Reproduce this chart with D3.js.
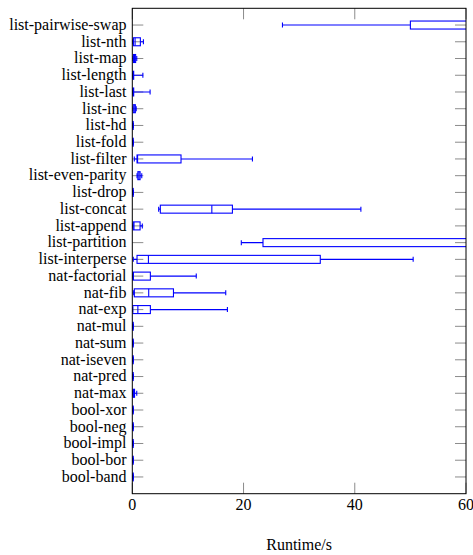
<!DOCTYPE html>
<html><head><meta charset="utf-8">
<script src="https://cdn.jsdelivr.net/npm/d3@7"></script>
<style>body{margin:0;background:#fff}svg{display:block}text{font-family:"Liberation Serif","DejaVu Serif",serif;fill:#000}</style>
</head><body><div id="chart"></div>
<script>
const categories = ["list-pairwise-swap","list-nth","list-map","list-length","list-last","list-inc","list-hd","list-fold","list-filter","list-even-parity","list-drop","list-concat","list-append","list-partition","list-interperse","nat-factorial","nat-fib","nat-exp","nat-mul","nat-sum","nat-iseven","nat-pred","nat-max","bool-xor","bool-neg","bool-impl","bool-bor","bool-band"];
const mins    = [27.0, 0.05, 0.1, 0.05, 0.05, 0.1, 0.05, 0.05, 0.36, 0.85, 0.05, 4.74, 0.05, 19.6, 0.18, 0.02, 0.25, 0.05, 0.05, 0.05, 0.05, 0.05, 0.05, 0.05, 0.05, 0.05, 0.05, 0.05];
const q1s     = [50.0, 0.2, 0.2, 0.1, 0.1, 0.15, 0.08, 0.08, 0.85, 1.0, 0.08, 5.04, 0.15, 23.5, 0.85, 0.1, 0.36, 0.1, 0.08, 0.08, 0.08, 0.08, 0.1, 0.08, 0.08, 0.08, 0.08, 0.08];
const medians = [62.0, 0.5, 0.4, 0.15, 0.15, 0.35, 0.1, 0.1, 0.95, 1.2, 0.1, 14.3, 0.3, 64.0, 2.9, 0.2, 2.95, 1.0, 0.1, 0.1, 0.1, 0.1, 0.2, 0.1, 0.1, 0.1, 0.1, 0.1];
const q3s     = [70.0, 1.45, 0.6, 0.25, 0.25, 0.55, 0.15, 0.15, 8.76, 1.4, 0.15, 18.0, 1.4, 70.0, 33.8, 3.25, 7.4, 3.25, 0.15, 0.15, 0.15, 0.15, 0.4, 0.15, 0.15, 0.15, 0.15, 0.15];
const maxs    = [80.0, 2.0, 0.8, 1.9, 3.2, 0.7, 0.2, 0.2, 21.6, 1.7, 0.2, 41.1, 1.8, 80.0, 50.5, 11.5, 16.8, 17.1, 0.2, 0.2, 0.2, 0.2, 0.8, 0.2, 0.2, 0.2, 0.2, 0.2];
const xTicks = [0, 20, 40, 60];
const xLabel = "Runtime/s";

const W = 473, H = 555;
const L = 132.3, R = 466, T = 8.3, B = 493.7;
const svg = d3.select("#chart").append("svg").attr("width", W).attr("height", H);
const x = d3.scaleLinear().domain([0, 60]).range([L, R]);
const n = categories.length;
const y = d3.scaleLinear().domain([0, n + 1]).range([B, T]);
const yOf = i => y(n - i);

const blue = "#0000ff", gray = "#8c8c8c";
svg.append("clipPath").attr("id", "clip").append("rect")
  .attr("x", L).attr("y", T).attr("width", R - L).attr("height", B - T);

// ticks (gray, inward)
const tk = svg.append("g").attr("stroke", gray).attr("stroke-width", 1);
categories.forEach((c, i) => {
  const yy = yOf(i);
  tk.append("line").attr("x1", L).attr("x2", L + 11).attr("y1", yy).attr("y2", yy);
  tk.append("line").attr("x1", R - 11).attr("x2", R).attr("y1", yy).attr("y2", yy);
});
xTicks.forEach(v => {
  tk.append("line").attr("x1", x(v)).attr("x2", x(v)).attr("y1", T).attr("y2", T + 11);
  tk.append("line").attr("x1", x(v)).attr("x2", x(v)).attr("y1", B - 11).attr("y2", B);
});

// boxes
const g = svg.append("g").attr("clip-path", "url(#clip)").attr("stroke", blue).attr("fill", "none").attr("stroke-width", 1.1);
const bh = 4, ch = 2.5;
categories.forEach((c, i) => {
  const yy = yOf(i);
  g.append("line").attr("x1", x(mins[i])).attr("x2", x(q1s[i])).attr("y1", yy).attr("y2", yy);
  g.append("line").attr("x1", x(q3s[i])).attr("x2", x(maxs[i])).attr("y1", yy).attr("y2", yy);
  g.append("line").attr("x1", x(mins[i])).attr("x2", x(mins[i])).attr("y1", yy - ch).attr("y2", yy + ch);
  g.append("line").attr("x1", x(maxs[i])).attr("x2", x(maxs[i])).attr("y1", yy - ch).attr("y2", yy + ch);
  g.append("rect").attr("x", x(q1s[i])).attr("y", yy - bh).attr("width", Math.max(0.01, x(q3s[i]) - x(q1s[i]))).attr("height", 2 * bh);
  g.append("line").attr("x1", x(medians[i])).attr("x2", x(medians[i])).attr("y1", yy - bh).attr("y2", yy + bh);
});

// frame
svg.append("rect").attr("x", L).attr("y", T).attr("width", R - L).attr("height", B - T)
  .attr("fill", "none").attr("stroke", "#000").attr("stroke-width", 1);

// labels
const fs = 16;
const lab = svg.append("g").attr("font-size", fs);
categories.forEach((c, i) => {
  lab.append("text").attr("x", 126.5).attr("y", yOf(i)).attr("dy", "0.3em").attr("text-anchor", "end").text(c);
});
xTicks.forEach(v => {
  lab.append("text").attr("x", x(v)).attr("y", 510).attr("text-anchor", "middle").text(v);
});
svg.append("text").attr("x", (L + R) / 2).attr("y", 550).attr("text-anchor", "middle").attr("font-size", fs).text(xLabel);
</script></body></html>
